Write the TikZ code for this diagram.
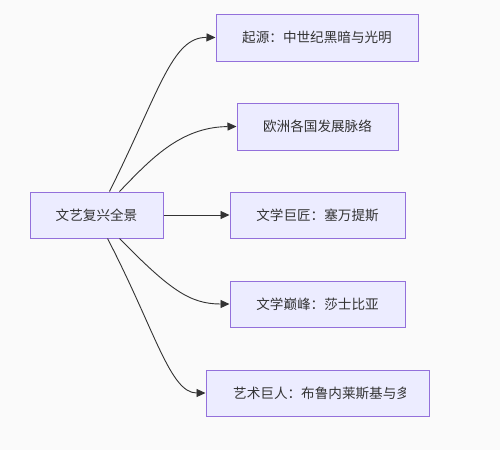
\documentclass[tikz,border=0pt]{standalone}
\usepackage{fontspec}
\setmainfont{Noto Sans CJK SC}
\usetikzlibrary{arrows.meta}
\definecolor{bg}{HTML}{FAFAFA}
\definecolor{boxfill}{HTML}{ECECFF}
\definecolor{boxline}{HTML}{9370DB}
\definecolor{ink}{HTML}{333333}
\tikzset{
  box/.style={draw=boxline, fill=boxfill, line width=1pt, inner sep=0pt, text=ink,
    font=\fontsize{13.6}{16}\selectfont},
  conn/.style={draw=ink, line width=0.9pt, -{Triangle[length=9pt,width=8pt]}},
}
\begin{document}
\begin{tikzpicture}[x=1pt,y=-1pt]
\fill[bg] (0,0) rectangle (500,450);
\useasboundingbox (0,0) rectangle (500,450);
\node[box, minimum width=133pt, minimum height=46pt] (root) at (96.5,215) {文艺复兴全景};
\node[box, minimum width=202pt, minimum height=47pt] (b1) at (317,37.5) {起源：中世纪黑暗与光明};
\node[box, minimum width=161pt, minimum height=47pt] (b2) at (317.5,126.5) {欧洲各国发展脉络};
\node[box, minimum width=175pt, minimum height=46pt] (b3) at (317.5,215) {文学巨匠：塞万提斯};
\node[box, minimum width=175pt, minimum height=46pt] (b4) at (317.5,304) {文学巅峰：莎士比亚};
\node[box, minimum width=223pt, minimum height=46pt] (b5) at (317.5,393) {};
\begin{scope}
\clip (233,370) rectangle (405,416);
\node[text=ink, font=\fontsize{13.6}{16}\selectfont, anchor=west, inner sep=0pt] (t5) at (233,393) {艺术巨人：布鲁内莱斯基与多};
\end{scope}
\coordinate (s1) at ([xshift=80pt]root.north west);
\coordinate (s2) at ([xshift=90pt]root.north west);
\coordinate (s4) at ([xshift=90pt]root.south west);
\coordinate (s5) at ([xshift=78pt]root.south west);
\draw[conn] (s1) .. controls (160,90) and (172,37) .. (b1.west);
\draw[conn] (s2) .. controls (150,160) and (180,127) .. (b2.west);
\draw[conn] (root.east) -- (b3.west);
\draw[conn] (s4) .. controls (170,290) and (190,304) .. (b4.west);
\draw[conn] (s5) .. controls (155,330) and (170,393) .. (b5.west);
\end{tikzpicture}
\end{document}
